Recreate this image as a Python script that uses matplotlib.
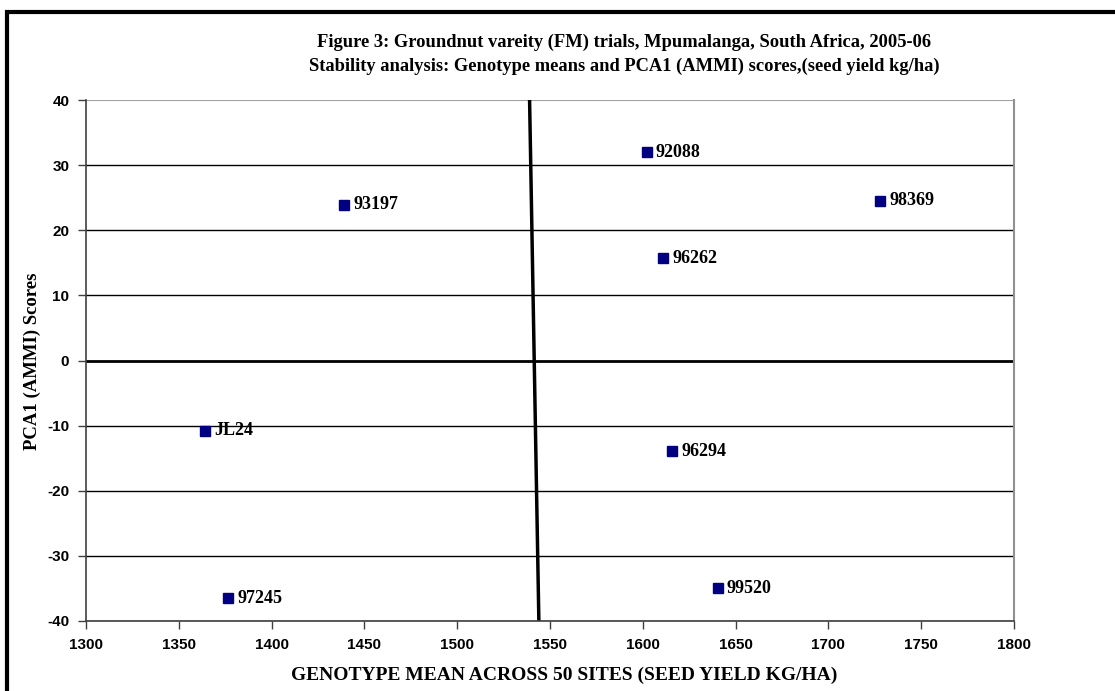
import matplotlib.pyplot as plt
from matplotlib.patches import Rectangle

plt.rcParams['axes.unicode_minus'] = False

# genotype means and PCA1 scores
genotypes = ['92088', '98369', '93197', '96262', 'JL24', '96294', '99520', '97245']
mean_yield = [1602, 1728, 1439, 1611, 1364, 1616, 1640.5, 1376.5]
pca1 = [32.0, 24.5, 23.9, 15.7, -10.8, -13.9, -35.0, -36.5]

# grand mean line (slightly tilted in the original)
grand_mean_x = [1539, 1544]
grand_mean_y = [40, -40]

xticks = [1300, 1350, 1400, 1450, 1500, 1550, 1600, 1650, 1700, 1750, 1800]
yticks = [-40, -30, -20, -10, 0, 10, 20, 30, 40]

serif = ['Liberation Serif', 'DejaVu Serif']
sans = ['Liberation Sans', 'DejaVu Sans']

fig = plt.figure(figsize=(11.15, 6.91), dpi=100)
ax = fig.add_axes([86 / 1115, 1 - 621 / 691, 928 / 1115, 521 / 691])

# gridlines
for y in yticks:
    if y == 0 or y == 40:
        continue
    ax.axhline(y, color='black', lw=1, zorder=1)
ax.axhline(40, color='#a0a0a0', lw=1.5, zorder=1)
ax.axhline(0, color='black', lw=2, zorder=2)
ax.plot(grand_mean_x, grand_mean_y, color='black', lw=2.5, zorder=2)

ax.plot(mean_yield, pca1, ls='none', marker='s', ms=6.5, color='#000080', zorder=3)
for name, x, y in zip(genotypes, mean_yield, pca1):
    ax.annotate(name, (x, y), xytext=(6.5, 0), textcoords='offset points',
                va='center', ha='left', fontsize=13, fontweight='bold', family=serif)

ax.set_xlim(1300, 1800)
ax.set_ylim(-40, 40)
ax.set_xticks(xticks)
ax.set_yticks(yticks)
for lab in ax.get_xticklabels() + ax.get_yticklabels():
    lab.set_fontsize(11)
    lab.set_fontweight('bold')
    lab.set_family(sans)
ax.tick_params(direction='out', length=6, width=1, color='#404040', pad=6)
for s in ['left', 'bottom']:
    ax.spines[s].set_color('#404040')
    ax.spines[s].set_linewidth(1.2)
ax.spines['right'].set_color('#909090')
ax.spines['right'].set_linewidth(1.5)
ax.spines['top'].set_visible(False)

ax.set_xlabel('GENOTYPE MEAN ACROSS 50 SITES (SEED YIELD KG/HA)', fontsize=14,
              fontweight='bold', family=serif)
ax.xaxis.set_label_coords((564 - 86) / 928, (621 - 675) / 521)
ax.set_ylabel('PCA1 (AMMI) Scores', fontsize=13.5, fontweight='bold', family=serif)
ax.yaxis.set_label_coords((32 - 86) / 928, (621 - 361) / 521)
ax.xaxis.label.set_va('center')
ax.yaxis.label.set_va('center')

fig.text(624 / 1115, 1 - 42 / 691, 'Figure 3: Groundnut vareity (FM) trials, Mpumalanga, South Africa, 2005-06',
         ha='center', va='center', fontsize=13.3, fontweight='bold', family=serif)
fig.text(624 / 1115, 1 - 66 / 691, 'Stability analysis: Genotype means and PCA1 (AMMI) scores,(seed yield kg/ha)',
         ha='center', va='center', fontsize=13.3, fontweight='bold', family=serif)

# outer chart frame
fig.patches.append(Rectangle((7 / 1115, -0.1), 1.2, 1 - 12 / 691 + 0.1, transform=fig.transFigure,
                             fill=False, ec='black', lw=3))

fig.savefig('out.png', dpi=100)
